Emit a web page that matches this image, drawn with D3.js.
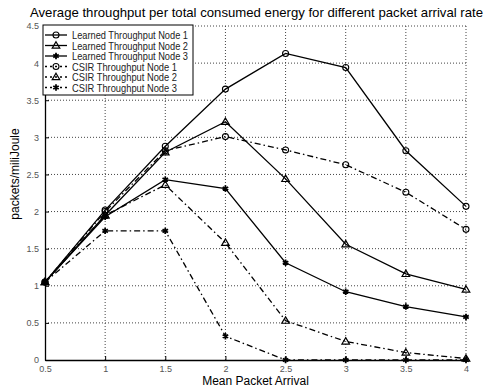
<!DOCTYPE html>
<html>
<head>
<meta charset="utf-8">
<script src="https://cdn.jsdelivr.net/npm/d3@7"></script>
<style>
  body { margin: 0; background: #fff; }
  text { font-family: "Liberation Sans", Arial, sans-serif; }
</style>
</head>
<body>
<div id="chart"></div>
<script>
// data
var arrivals = [0.5, 1, 1.5, 2, 2.5, 3, 3.5, 4];
var learnedNode1 = [1.05, 2.02, 2.88, 3.65, 4.13, 3.94, 2.82, 2.07];
var learnedNode2 = [1.05, 1.95, 2.80, 3.21, 2.44, 1.56, 1.16, 0.95];
var learnedNode3 = [1.05, 1.93, 2.43, 2.31, 1.31, 0.92, 0.72, 0.58];
var csirNode1 = [1.05, 2.00, 2.82, 3.01, 2.83, 2.63, 2.26, 1.76];
var csirNode2 = [1.05, 1.95, 2.36, 1.58, 0.53, 0.25, 0.10, 0.02];
var csirNode3 = [1.05, 1.74, 1.74, 0.32, 0.0, 0.0, 0.0, 0.0];
var xTicks = [0.5, 1, 1.5, 2, 2.5, 3, 3.5, 4];
var yTicks = [0, 0.5, 1, 1.5, 2, 2.5, 3, 3.5, 4, 4.5];

var series = [
  { name: "Learned Throughput Node 1", values: learnedNode1, marker: "circle", dash: null },
  { name: "Learned Throughput Node 2", values: learnedNode2, marker: "triangle", dash: null },
  { name: "Learned Throughput Node 3", values: learnedNode3, marker: "star", dash: null },
  { name: "CSIR Throughput Node 1", values: csirNode1, marker: "circle", dash: "6,3,1.5,3" },
  { name: "CSIR Throughput Node 2", values: csirNode2, marker: "triangle", dash: "6,3,1.5,3" },
  { name: "CSIR Throughput Node 3", values: csirNode3, marker: "star", dash: "6,3,1.5,3" }
];

var svgWidth = 487;
var svgHeight = 389;
var margin = { top: 26, right: 21, bottom: 29, left: 45 };
var width = svgWidth - margin.left - margin.right;
var height = svgHeight - margin.top - margin.bottom;

var svg = d3.select("#chart")
  .append("svg")
  .attr("width", svgWidth)
  .attr("height", svgHeight);

var chartGroup = svg.append("g")
  .attr("transform", `translate(${margin.left}, ${margin.top})`);

var xScale = d3.scaleLinear().domain([0.5, 4]).range([0, width]);
var yScale = d3.scaleLinear().domain([0, 4.5]).range([height, 0]);

// dotted grid
chartGroup.selectAll(".vgrid")
  .data(xTicks.slice(1))
  .enter()
  .append("line")
  .attr("x1", d => xScale(d)).attr("x2", d => xScale(d))
  .attr("y1", 0).attr("y2", height)
  .attr("stroke", "#444").attr("stroke-width", 1)
  .attr("stroke-dasharray", "1,2");

chartGroup.selectAll(".hgrid")
  .data(yTicks.slice(1))
  .enter()
  .append("line")
  .attr("x1", 0).attr("x2", width)
  .attr("y1", d => yScale(d)).attr("y2", d => yScale(d))
  .attr("stroke", "#444").attr("stroke-width", 1)
  .attr("stroke-dasharray", "1,2");

// axes
var bottomAxis = d3.axisBottom(xScale).tickValues(xTicks).tickSizeInner(-4).tickSizeOuter(0).tickPadding(6)
  .tickFormat(d3.format("~g"));
var leftAxis = d3.axisLeft(yScale).tickValues(yTicks).tickSizeInner(-4).tickSizeOuter(0).tickPadding(6)
  .tickFormat(d3.format("~g"));

var xAxis = chartGroup.append("g")
  .attr("transform", `translate(0, ${height})`)
  .call(bottomAxis);
var yAxis = chartGroup.append("g").call(leftAxis);

[xAxis, yAxis].forEach(function(ax) {
  ax.select(".domain").attr("stroke", "#000").attr("stroke-width", 1.3);
  ax.selectAll("line").attr("stroke", "#000");
  ax.selectAll("text").attr("font-size", "9px").attr("fill", "#555")
    .attr("font-family", "'Liberation Sans', Arial, sans-serif");
});

// markers
function drawMarker(g, type, x, y) {
  if (type === "circle") {
    g.append("circle").attr("cx", x).attr("cy", y).attr("r", 3)
      .attr("fill", "none").attr("stroke", "#000").attr("stroke-width", 1.1);
  } else if (type === "triangle") {
    g.append("path")
      .attr("d", `M${x},${y - 3.8}L${x + 3.8},${y + 2.6}L${x - 3.8},${y + 2.6}Z`)
      .attr("fill", "none").attr("stroke", "#000").attr("stroke-width", 1.2);
  } else {
    g.append("path")
      .attr("transform", `translate(${x},${y})`)
      .attr("d", d3.symbol(d3.symbolAsterisk, 28)())
      .attr("fill", "none").attr("stroke", "#000").attr("stroke-width", 1.8);
  }
}

var line = d3.line()
  .x((d, i) => xScale(arrivals[i]))
  .y(d => yScale(d));

series.forEach(function(s) {
  chartGroup.append("path")
    .datum(s.values)
    .attr("d", line)
    .attr("fill", "none")
    .attr("stroke", "#000")
    .attr("stroke-width", 1.3)
    .attr("stroke-dasharray", s.dash);
  var mg = chartGroup.append("g");
  s.values.forEach(function(v, i) {
    drawMarker(mg, s.marker, xScale(arrivals[i]), yScale(v));
  });
});

// legend
var legend = chartGroup.append("g").attr("transform", "translate(-2, -1)");
legend.append("rect")
  .attr("x", 0).attr("y", 0).attr("width", 150).attr("height", 70)
  .attr("fill", "#fff").attr("stroke", "#000").attr("stroke-width", 1);

series.forEach(function(s, i) {
  var ly = 10 + i * 10.5;
  legend.append("line")
    .attr("x1", 2).attr("x2", 24).attr("y1", ly).attr("y2", ly)
    .attr("stroke", "#000").attr("stroke-width", 1.3)
    .attr("stroke-dasharray", s.dash ? "2,3" : null);
  drawMarker(legend, s.marker, 13, ly);
  legend.append("text")
    .attr("x", 29).attr("y", ly + 4)
    .attr("font-size", "11px")
    .attr("fill", "#222")
    .attr("textLength", s.dash ? 105 : 116)
    .attr("lengthAdjust", "spacingAndGlyphs")
    .text(s.name);
});

// title and labels
svg.append("text")
  .attr("x", 30).attr("y", 17)
  .attr("font-size", "13px")
  .attr("textLength", 453)
  .attr("lengthAdjust", "spacingAndGlyphs")
  .text("Average throughput per total consumed energy for different packet arrival rate");

svg.append("text")
  .attr("x", margin.left + width / 2).attr("y", 385)
  .attr("text-anchor", "middle")
  .attr("font-size", "12px")
  .text("Mean Packet Arrival");

svg.append("text")
  .attr("transform", "translate(19, 174) rotate(-90)")
  .attr("text-anchor", "middle")
  .attr("font-size", "12px")
  .text("packets/miliJoule");
</script>
</body>
</html>
